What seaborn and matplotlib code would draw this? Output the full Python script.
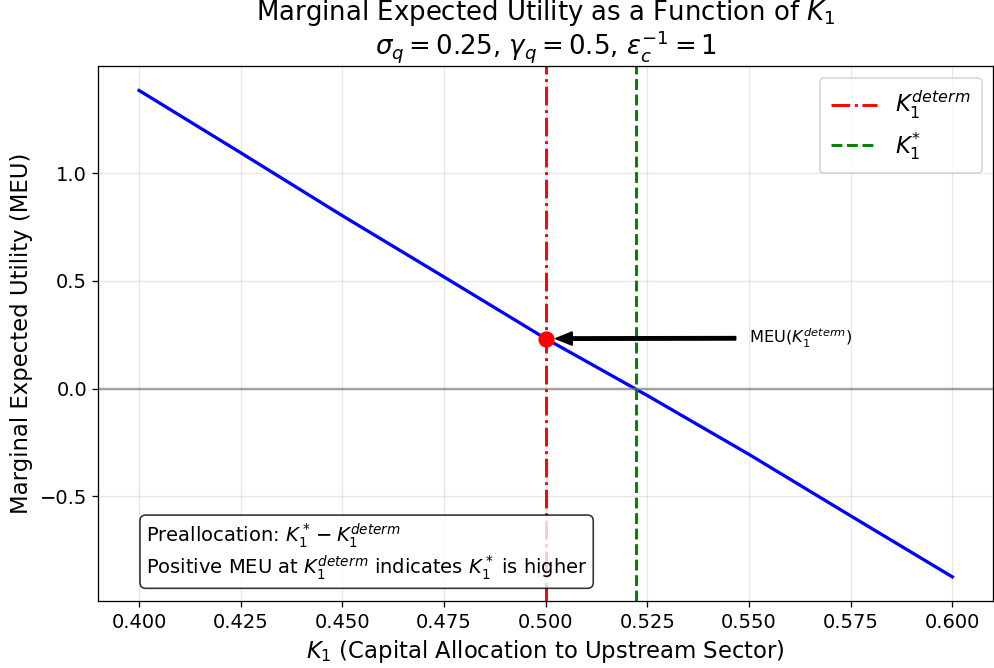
import matplotlib
matplotlib.use("Agg")
import matplotlib.pyplot as plt
import seaborn as sns
import pandas as pd

# Marginal expected utility sampled along the upstream capital share K1
k1_values = [0.400, 0.425, 0.450, 0.475, 0.500, 0.525, 0.550, 0.575, 0.600]
meu_values = [1.383, 1.094, 0.802, 0.518, 0.232, -0.032, -0.305, -0.590, -0.873]

k1_determ = 0.500
meu_at_determ = 0.232
k1_star = 0.5222

df = pd.DataFrame({"K1": k1_values, "MEU": meu_values})

DPI = 117
fig, ax = plt.subplots(figsize=(994 / DPI, 668 / DPI), dpi=DPI)
fig.subplots_adjust(left=0.099, right=0.999, top=0.901, bottom=0.1)

sns.lineplot(data=df, x="K1", y="MEU", ax=ax, color="blue", linewidth=2)
ax.axhline(0, color="gray", alpha=0.7, linewidth=1.5)
ax.axvline(k1_determ, color="red", linestyle="-.", linewidth=1.8,
           label=r"$K_1^{determ}$")
ax.axvline(k1_star, color="green", linestyle="--", linewidth=1.8,
           label=r"$K_1^{*}$")
ax.plot([k1_determ], [meu_at_determ], "o", color="red", markersize=9)

ax.annotate(r"MEU($K_1^{determ}$)", xy=(k1_determ, meu_at_determ),
            xytext=(0.55, 0.21), fontsize=10,
            arrowprops=dict(facecolor="black", shrink=0.05, width=2,
                            headwidth=8, headlength=10))

ax.text(0.053, 0.035,
        "Preallocation: $K_1^* - K_1^{determ}$\n"
        "Positive MEU at $K_1^{determ}$ indicates $K_1^*$ is higher",
        transform=ax.transAxes, fontsize=12, va="bottom", ha="left",
        bbox=dict(boxstyle="round", facecolor="white", alpha=0.8))

ax.set_title("Marginal Expected Utility as a Function of $K_1$\n"
             r"$\sigma_q = 0.25$, $\gamma_q = 0.5$, $\epsilon_c^{-1} = 1$",
             fontsize=16, linespacing=1.0, pad=7)
ax.set_xlabel("$K_1$ (Capital Allocation to Upstream Sector)", fontsize=14)
ax.set_ylabel("Marginal Expected Utility (MEU)", fontsize=14)
ax.tick_params(labelsize=12)
ax.grid(True, alpha=0.3)
ax.legend(fontsize=14, loc="upper right", borderpad=0.5, labelspacing=0.4)

fig.savefig("out.png", dpi=DPI)
